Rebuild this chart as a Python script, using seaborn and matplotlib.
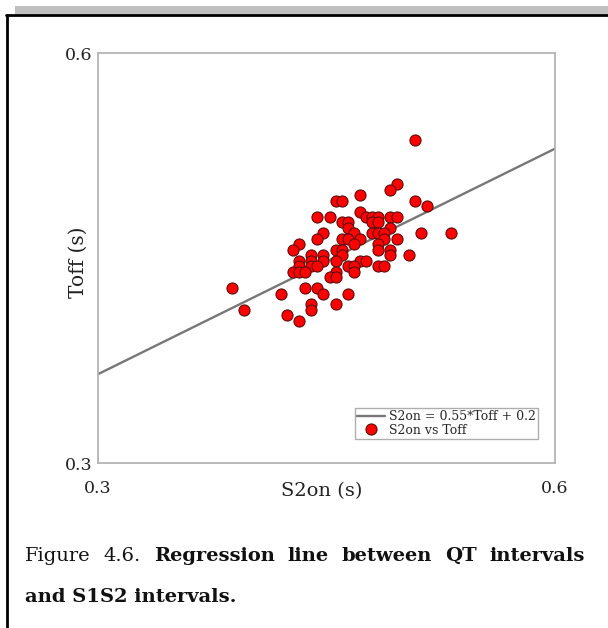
import matplotlib
matplotlib.use("Agg")
import matplotlib.pyplot as plt
from matplotlib.patches import Rectangle
from matplotlib.lines import Line2D
import numpy as np
import pandas as pd
import seaborn as sns

# Measured intervals (seconds)
toff = [0.508, 0.496, 0.492, 0.456, 0.460, 0.472, 0.508, 0.516, 0.472,
        0.444, 0.452, 0.476, 0.480, 0.484, 0.492, 0.496,
        0.460, 0.464, 0.480, 0.484,
        0.464, 0.492,
        0.448, 0.468, 0.480, 0.484, 0.488, 0.512, 0.532,
        0.444, 0.460, 0.464, 0.472, 0.488, 0.496,
        0.432, 0.468, 0.484,
        0.428, 0.456, 0.460, 0.484, 0.492,
        0.440, 0.448, 0.460, 0.492, 0.504,
        0.432, 0.440, 0.448, 0.456, 0.472, 0.476,
        0.432, 0.440, 0.444, 0.464, 0.468, 0.484, 0.488,
        0.428, 0.432, 0.436, 0.456, 0.468,
        0.452, 0.456,
        0.388, 0.436, 0.444,
        0.420, 0.448, 0.464,
        0.440, 0.456,
        0.396, 0.440,
        0.424, 0.432]
s2on = [0.536, 0.504, 0.500, 0.492, 0.492, 0.496, 0.492, 0.488, 0.484,
        0.480, 0.480, 0.480, 0.480, 0.480, 0.480, 0.480,
        0.476, 0.476, 0.476, 0.476,
        0.472, 0.472,
        0.468, 0.468, 0.468, 0.468, 0.468, 0.468, 0.468,
        0.464, 0.464, 0.464, 0.464, 0.464, 0.464,
        0.460, 0.460, 0.460,
        0.456, 0.456, 0.456, 0.456, 0.456,
        0.452, 0.452, 0.452, 0.452, 0.452,
        0.448, 0.448, 0.448, 0.448, 0.448, 0.448,
        0.444, 0.444, 0.444, 0.444, 0.444, 0.444, 0.444,
        0.440, 0.440, 0.440, 0.440, 0.440,
        0.436, 0.436,
        0.428, 0.428, 0.428,
        0.424, 0.424, 0.424,
        0.416, 0.416,
        0.412, 0.412,
        0.408, 0.404]

slope = 0.55
intercept = 0.2
axis_range = [0.3, 0.6]
tick_values = [0.3, 0.6]
tick_labels = ["0.3", "0.6"]

line_label = "S2on = 0.55*Toff + 0.2"
points_label = "S2on vs Toff"
x_label = "S2on (s)"
y_label = "Toff (s)"

sns.set_style("white")
serif = ["DejaVu Serif"]
plt.rcParams["font.family"] = serif

W, H = 608, 628
fig = plt.figure(figsize=(W / 100, H / 100), dpi=100)
fig.patch.set_facecolor("white")

# axes box in pixels: x 98..555, y 53..463
ax = fig.add_axes([98 / W, 1 - 463 / H, 457 / W, 410 / H])

fit = pd.DataFrame({"x": axis_range,
                    "y": [slope * v + intercept for v in axis_range]})
pts = pd.DataFrame({"x": toff, "y": s2on})

sns.lineplot(data=fit, x="x", y="y", ax=ax, color="#777777",
             linewidth=1.7, label=line_label, zorder=2)
sns.scatterplot(data=pts, x="x", y="y", ax=ax, color="#ff0000",
                edgecolor="#5a1010", linewidth=0.8, s=64,
                label=points_label, zorder=3)

ax.set_xlim(axis_range)
ax.set_ylim(axis_range)
ax.set_xticks(tick_values)
ax.set_yticks(tick_values)
ax.set_xticklabels(tick_labels)
ax.set_yticklabels(tick_labels)
ax.tick_params(length=0, labelsize=12.5, colors="#222222")
ax.tick_params(axis="x", pad=12)
ax.tick_params(axis="y", pad=4)

for sp in ax.spines.values():
    sp.set_color("#b4b4b4")
    sp.set_linewidth(1.3)

ax.set_xlabel(x_label, fontsize=14, color="#222222")
ax.set_ylabel(y_label, fontsize=14.5, color="#222222")
ax.xaxis.set_label_coords(0.49, -0.068)
ax.yaxis.set_label_coords(-0.044, 0.49)
ax.xaxis.label.set_va("center")
ax.yaxis.label.set_va("center")

handles = [Line2D([0], [0], color="#777777", linewidth=1.7),
           Line2D([0], [0], marker="o", linestyle="none",
                  markerfacecolor="#ff0000", markeredgecolor="#5a1010",
                  markersize=8, markeredgewidth=0.8)]
leg = ax.legend(handles, [line_label, points_label], loc="lower right",
                bbox_to_anchor=(0.963, 0.058), borderaxespad=0,
                fontsize=9, frameon=True, fancybox=False,
                handlelength=2.2, handletextpad=0.3, labelspacing=0.05,
                borderpad=0.2)
leg.get_frame().set_edgecolor("#9a9a9a")
leg.get_frame().set_linewidth(1.0)

# page decoration: grey rule on top and black frame
fig.add_artist(Rectangle((15 / W, 1 - 14 / H), 1 - 15 / W, 8 / H,
                         transform=fig.transFigure, facecolor="#c0c0c0",
                         edgecolor="none"))
fig.add_artist(Line2D([7 / W, 7 / W], [0, 1 - 15 / H],
                      transform=fig.transFigure, color="black", linewidth=2))
fig.add_artist(Line2D([6 / W, 1], [1 - 15 / H, 1 - 15 / H],
                      transform=fig.transFigure, color="black", linewidth=2))

# caption, first line justified
fig.canvas.draw()
renderer = fig.canvas.get_renderer()
cap_size = 14
line1 = [("Figure", "normal"), ("4.6.", "normal"), ("Regression", "bold"),
         ("line", "bold"), ("between", "bold"), ("QT", "bold"),
         ("intervals", "bold")]
left_px, right_px = 25, 585
texts = []
widths = []
for word, weight in line1:
    t = fig.text(0, 0, word, fontsize=cap_size, fontweight=weight,
                 color="#111111", va="center", ha="left")
    widths.append(t.get_window_extent(renderer).width)
    texts.append(t)
gap = (right_px - left_px - sum(widths)) / (len(texts) - 1)
xpos = left_px
for t, w in zip(texts, widths):
    t.set_position((xpos / W, 1 - 556 / H))
    xpos += w + gap

fig.text(left_px / W, 1 - 597 / H, "and S1S2 intervals.", fontsize=cap_size,
         fontweight="bold", color="#111111", va="center", ha="left")

fig.savefig("out.png", dpi=100, facecolor="white")
